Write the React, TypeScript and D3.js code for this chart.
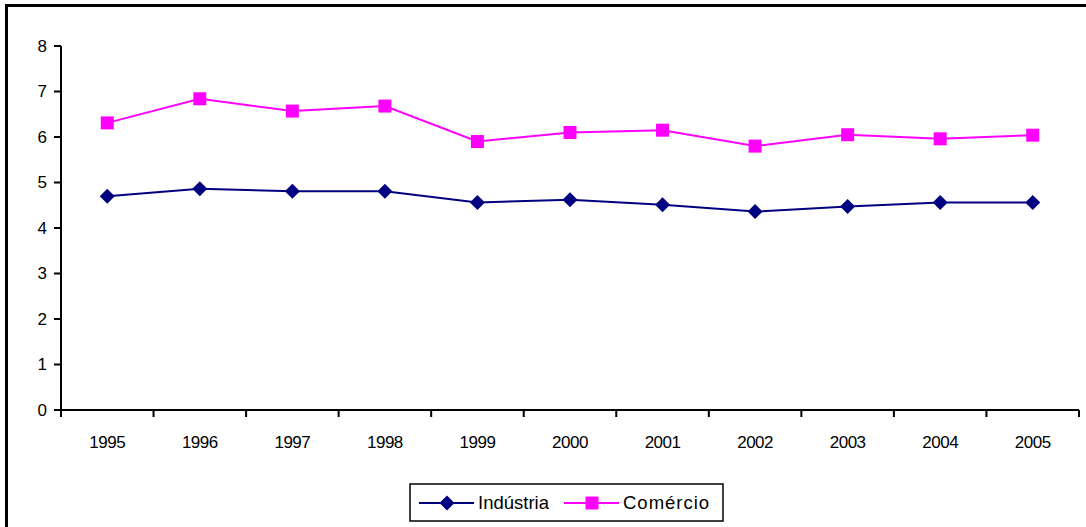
import React from "react";
import * as d3 from "d3";

const years = ["1995","1996","1997","1998","1999","2000","2001","2002","2003","2004","2005"];
const industria = [4.70, 4.86, 4.81, 4.81, 4.56, 4.62, 4.51, 4.36, 4.47, 4.56, 4.56];
const comercio = [6.31, 6.84, 6.57, 6.68, 5.90, 6.10, 6.15, 5.80, 6.05, 5.96, 6.04];
const yTicks = [0, 1, 2, 3, 4, 5, 6, 7, 8];

const NAVY = "#000080";
const MAGENTA = "#FF00FF";
const FONT = "'Liberation Sans', Arial, sans-serif";

export default function App() {
  const W = 1086, H = 527;
  const left = 61, right = 1079, top = 46, bottom = 410;
  const x = d3.scaleBand().domain(years).range([left, right]);
  const y = d3.scaleLinear().domain([0, 8]).range([bottom, top]);
  const cx = (d: string) => (x(d) as number) + x.bandwidth() / 2;
  const line = d3.line<number>().x((_, i) => cx(years[i])).y((v) => y(v));
  const tickXs = years.map((d) => x(d) as number).concat([right]);

  return (
    <svg width={W} height={H} style={{ position: "absolute", left: 0, top: 0 }}>
      <rect x={0} y={0} width={W} height={H} fill="#fff" />
      <path d={`M6.5,${H + 5}V5.5H${W + 5}`} fill="none" stroke="#000" strokeWidth={3} />
      {/* y axis */}
      <line x1={left} x2={left} y1={top} y2={bottom} stroke="#000" strokeWidth={2} />
      {yTicks.map((t) => (
        <g key={t}>
          <line x1={left - 7} x2={left} y1={y(t)} y2={y(t)} stroke="#000" strokeWidth={2} />
          <text x={left - 14} y={y(t)} dy="0.35em" textAnchor="end" fontFamily={FONT} fontSize={17} fill="#000">{t}</text>
        </g>
      ))}
      {/* x axis */}
      <line x1={left} x2={right} y1={bottom} y2={bottom} stroke="#000" strokeWidth={2} />
      {tickXs.map((tx, i) => (
        <line key={i} x1={tx} x2={tx} y1={bottom} y2={bottom + 7} stroke="#000" strokeWidth={2} />
      ))}
      {years.map((d) => (
        <text key={d} x={cx(d)} y={442} dy="0.35em" textAnchor="middle" fontFamily={FONT} fontSize={17} letterSpacing={-0.5} fill="#000">{d}</text>
      ))}
      {/* series */}
      <path d={line(comercio) as string} fill="none" stroke={MAGENTA} strokeWidth={2} />
      <path d={line(industria) as string} fill="none" stroke={NAVY} strokeWidth={2} />
      {comercio.map((v, i) => (
        <rect key={i} x={cx(years[i]) - 6.5} y={y(v) - 6.5} width={13} height={13} fill={MAGENTA} />
      ))}
      {industria.map((v, i) => {
        const px = cx(years[i]), py = y(v);
        return <path key={i} d={`M${px},${py - 7.5}L${px + 7.5},${py}L${px},${py + 7.5}L${px - 7.5},${py}Z`} fill={NAVY} />;
      })}
      {/* legend */}
      <rect x={410} y={484} width={313} height={37} fill="#fff" stroke="#000" strokeWidth={1.5} />
      <line x1={419} x2={474} y1={503} y2={503} stroke={NAVY} strokeWidth={2} />
      <path d={`M447,495.5L454.5,503L447,510.5L439.5,503Z`} fill={NAVY} />
      <text x={478} y={503} dy="0.35em" fontFamily={FONT} fontSize={18.5} fill="#000">Indústria</text>
      <line x1={564} x2={619} y1={503} y2={503} stroke={MAGENTA} strokeWidth={2} />
      <rect x={585.5} y={496.5} width={13} height={13} fill={MAGENTA} />
      <text x={623} y={503} dy="0.35em" fontFamily={FONT} fontSize={18.5} letterSpacing={1} fill="#000">Comércio</text>
    </svg>
  );
}
